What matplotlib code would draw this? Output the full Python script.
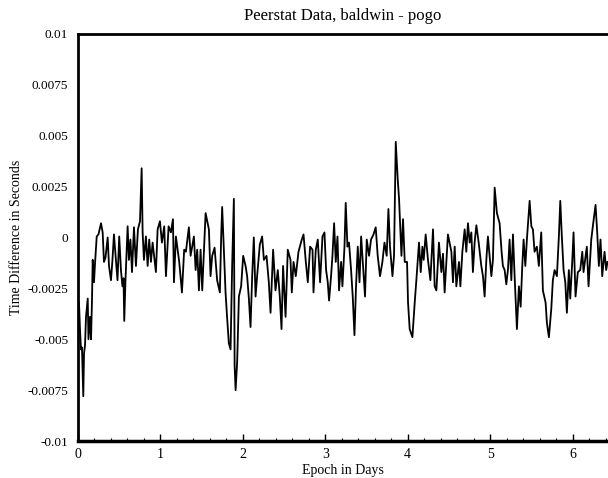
import matplotlib
matplotlib.use('Agg')
from matplotlib import pyplot as plt
from matplotlib.ticker import MultipleLocator

plt.rcParams['font.family'] = ['Liberation Serif', 'DejaVu Serif']

# epoch (days) and time difference (s)
epoch = [0.012, 0.024, 0.036, 0.048, 0.064, 0.073, 0.085, 0.097, 0.118, 0.127,
         0.145, 0.158, 0.170, 0.178, 0.194, 0.206, 0.227, 0.248, 0.279, 0.299,
         0.315, 0.333, 0.360, 0.376, 0.400, 0.418, 0.436, 0.461, 0.479, 0.500,
         0.521, 0.539, 0.552, 0.561, 0.576, 0.602, 0.618, 0.636, 0.655, 0.679,
         0.703, 0.727, 0.752, 0.772, 0.784, 0.800, 0.824, 0.845, 0.864, 0.885,
         0.905, 0.945, 0.966, 0.994, 1.018, 1.046, 1.067, 1.099, 1.127, 1.152,
         1.164, 1.188, 1.228, 1.261, 1.288, 1.309, 1.345, 1.366, 1.406, 1.427,
         1.446, 1.467, 1.487, 1.507, 1.527, 1.548, 1.588, 1.608, 1.628, 1.657,
         1.688, 1.721, 1.737, 1.749, 1.770, 1.790, 1.810, 1.830, 1.851, 1.870,
         1.891, 1.900, 1.912, 1.931, 1.952, 1.979, 2.004, 2.033, 2.052, 2.073,
         2.093, 2.113, 2.133, 2.154, 2.173, 2.206, 2.234, 2.255, 2.287, 2.315,
         2.336, 2.367, 2.396, 2.424, 2.448, 2.469, 2.488, 2.518, 2.545, 2.578,
         2.594, 2.615, 2.642, 2.675, 2.715, 2.736, 2.764, 2.788, 2.816, 2.845,
         2.857, 2.885, 2.909, 2.937, 2.966, 2.990, 3.010, 3.030, 3.046, 3.070,
         3.087, 3.107, 3.127, 3.148, 3.167, 3.192, 3.208, 3.233, 3.248, 3.269,
         3.288, 3.313, 3.333, 3.354, 3.373, 3.394, 3.415, 3.435, 3.455, 3.482,
         3.503, 3.531, 3.555, 3.585, 3.612, 3.636, 3.664, 3.693, 3.718, 3.745,
         3.766, 3.785, 3.815, 3.834, 3.855, 3.879, 3.895, 3.924, 3.943, 3.964,
         3.992, 4.004, 4.024, 4.057, 4.085, 4.105, 4.137, 4.158, 4.178, 4.194,
         4.218, 4.246, 4.275, 4.307, 4.327, 4.348, 4.379, 4.408, 4.428, 4.448,
         4.469, 4.488, 4.530, 4.549, 4.570, 4.590, 4.622, 4.639, 4.663, 4.691,
         4.711, 4.731, 4.752, 4.772, 4.791, 4.812, 4.833, 4.861, 4.893, 4.913,
         4.933, 4.954, 4.973, 4.994, 5.015, 5.034, 5.055, 5.082, 5.115, 5.139,
         5.155, 5.176, 5.196, 5.216, 5.236, 5.257, 5.277, 5.297, 5.325, 5.349,
         5.370, 5.390, 5.406, 5.427, 5.446, 5.479, 5.500, 5.519, 5.539, 5.567,
         5.591, 5.620, 5.640, 5.673, 5.689, 5.713, 5.742, 5.761, 5.782, 5.810,
         5.834, 5.851, 5.870, 5.891, 5.912, 5.931, 5.955, 5.972, 5.996, 6.012,
         6.036, 6.064, 6.093, 6.118, 6.133, 6.158, 6.173, 6.194, 6.227, 6.246,
         6.279, 6.299, 6.319, 6.339, 6.360, 6.388, 6.408, 6.424]

time_diff = [-0.0032, -0.0045, -0.0055, -0.0054, -0.0078, -0.0057, -0.0053, -0.0039, -0.0030, -0.0050,
             -0.0039, -0.0050, -0.0030, -0.0011, -0.0022, -0.0013, 0.00005, 0.00015, 0.0007, 0.00025,
             -0.0012, -0.0010, 0.0, -0.0014, -0.0021, -0.0011, 0.00015, -0.0012, -0.0021, 0.00005,
             -0.0016, -0.0024, -0.0020, -0.0041, -0.0021, 0.00055, -0.0011, -0.0001, -0.0017, 0.0005,
             -0.0014, 0.0004, 0.0008, 0.0034, 0.00025, -0.0011, 0.00005, -0.0014, -0.0001, -0.0012,
             -0.00025, -0.0017, 0.0004, 0.0008, -0.00025, 0.00055, -0.0019, 0.00055, 0.00025, 0.0009,
             -0.0022, 0.00005, -0.0012, -0.0027, -0.0006, -0.0007, 0.0005, -0.0009, 0.00005, -0.0016,
             -0.0006, -0.0026, -0.0006, -0.0026, -0.0007, 0.0012, 0.0004, -0.0019, -0.0009, -0.0005,
             -0.0021, -0.0027, 0.00005, 0.0015, -0.0006, -0.0027, -0.0040, -0.0052, -0.0055, -0.0014,
             0.0019, -0.0063, -0.0075, -0.0061, -0.0029, -0.0024, -0.0009, -0.0014, -0.0019, -0.0030,
             -0.0044, -0.0019, 0.0, -0.0029, -0.0019, -0.00035, 0.00005, -0.0011, -0.0009, -0.0022,
             -0.0037, -0.0006, -0.0026, -0.0016, -0.0029, -0.0045, -0.0014, -0.0039, -0.0006, -0.0011,
             -0.0027, -0.0012, -0.0019, -0.0007, -0.0001, 0.00015, -0.0012, -0.0022, -0.00045, -0.0006,
             -0.0027, -0.0006, -0.0001, -0.0022, 0.00005, 0.00025, -0.0016, -0.0022, -0.0031, -0.0019,
             -0.0009, 0.0007, -0.0012, 0.00005, -0.0026, -0.0012, -0.0024, -0.00045, 0.0017, -0.00045,
             -0.00025, -0.0016, -0.0029, -0.0048, -0.0024, -0.00045, -0.0022, 0.00005, -0.0012, -0.0029,
             -0.0001, -0.0009, -0.0001, 0.00015, 0.0005, -0.0009, -0.0019, -0.0012, -0.00025, -0.0009,
             0.0014, -0.00045, -0.0019, -0.0009, 0.0047, 0.00285, 0.0019, -0.0009, 0.0009, -0.0012,
             -0.0012, -0.0032, -0.0045, -0.0049, -0.0032, -0.0021, -0.00025, -0.0017, -0.00045, -0.0011,
             0.00015, -0.0011, -0.0021, 0.0004, -0.0024, -0.0026, -0.00025, -0.0017, -0.0008, -0.0027,
             -0.0012, 0.00015, -0.0007, -0.0022, -0.00045, -0.0024, -0.0012, -0.0024, -0.0007, 0.0004,
             -0.0007, 0.0007, -0.00025, 0.00025, -0.0017, -0.00025, 0.0006, -0.00025, -0.0014, -0.0019,
             -0.0029, -0.0011, 0.00005, -0.0009, -0.0019, -0.0011, 0.00245, 0.0012, 0.0007, -0.0007,
             -0.0014, -0.0016, -0.0023, -0.0016, -0.0001, -0.0021, 0.00015, -0.0019, -0.0045, -0.0024,
             -0.0034, -0.0014, -0.0001, -0.0014, -0.0001, 0.0018, 0.00055, 0.0004, -0.0007, -0.00045,
             -0.0014, 0.00025, -0.0026, -0.0032, -0.0042, -0.0049, -0.0035, -0.0021, -0.0016, -0.0019,
             0.00005, 0.0018, 0.00005, -0.0016, -0.0022, -0.0037, -0.0016, -0.0030, -0.0012, 0.00025,
             -0.0029, -0.0017, -0.0016, -0.0007, -0.0017, -0.0009, -0.00045, -0.0024, -0.0001, 0.00055,
             0.0016, 0.00025, -0.0014, -0.0001, -0.0019, -0.0007, -0.0016, -0.0012]

yticks = [-0.01, -0.0075, -0.005, -0.0025, 0, 0.0025, 0.005, 0.0075, 0.01]
ytick_labels = ['-0.01', '-0.0075', '-0.005', '-0.0025', '0', '0.0025', '0.005', '0.0075', '0.01']
xticks = [0, 1, 2, 3, 4, 5, 6]

fig = plt.figure(figsize=(6.08, 4.78), dpi=100)
ax = fig.add_axes([0.1283, 0.0774, 0.8717, 0.8515])

ax.plot(epoch, time_diff, color='black', lw=1.3)

ax.set_xlim(0, 6.43)
ax.set_ylim(-0.01, 0.01)
ax.set_yticks(yticks)
ax.set_yticklabels(ytick_labels)
ax.set_xticks(xticks)
ax.xaxis.set_minor_locator(MultipleLocator(0.2))

ax.spines['right'].set_visible(False)
ax.spines['left'].set_linewidth(2)
ax.spines['bottom'].set_linewidth(2.5)
ax.spines['top'].set_linewidth(2)

ax.tick_params(axis='y', which='major', direction='in', length=0,
               labelsize=9.5, pad=7)
ax.tick_params(axis='x', which='major', direction='in', length=5, width=1,
               labelsize=10, pad=5, top=False)
ax.tick_params(axis='x', which='minor', direction='in', length=2.5, width=0.8)

ax.set_title('Peerstat Data, baldwin - pogo', fontsize=12, pad=10)
ax.set_xlabel('Epoch in Days', fontsize=10, labelpad=2)
ax.set_ylabel('Time Difference in Seconds', fontsize=10, labelpad=3)

plt.savefig('out.png', dpi=100)
